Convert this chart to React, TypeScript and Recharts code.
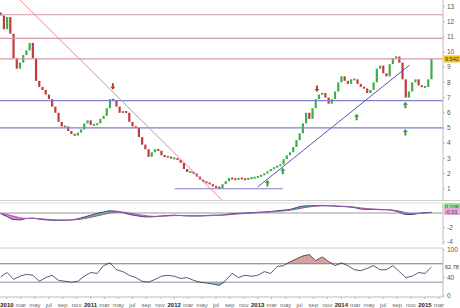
import { ComposedChart, Bar, Line, Area, Scatter, XAxis, YAxis, ReferenceLine } from 'recharts';

// biweekly closes, Jan 2010 -> Feb 2015
const closes = [
  12.4, 11.5, 12.3, 11.2, 9.6, 8.9, 9.3, 9.8, 10.1, 10.6, 9.6, 8.1, 7.7, 7.5, 7.2, 6.9, 6.4, 6.0, 5.4, 5.1,
  5.1, 4.8, 4.6, 4.5, 4.7, 4.9, 5.3, 5.5, 5.2, 5.2, 5.3, 5.6, 5.8, 6.3, 6.9, 6.8, 6.4, 6.0, 6.1, 6.0,
  5.4, 5.1, 5.0, 4.4, 3.9, 3.6, 3.1, 3.4, 3.6, 3.5, 3.2, 3.1, 3.1, 3.0, 3.0, 2.9, 2.7, 2.3, 2.1, 2.1,
  2.0, 1.8, 1.6, 1.45, 1.4, 1.3, 1.15, 1.1, 1.05, 1.3, 1.5, 1.7, 1.65, 1.6, 1.7, 1.65, 1.6, 1.7, 1.7, 1.75,
  1.8, 1.9, 2.0, 2.15, 2.3, 2.4, 2.5, 2.6, 2.95, 3.2, 3.4, 3.75, 4.2, 4.65, 5.3, 6.0, 5.6, 6.3, 6.9, 7.2,
  7.3, 7.0, 6.6, 6.9, 7.4, 8.0, 8.4, 8.1, 7.9, 8.2, 8.2, 7.9, 7.7, 7.6, 7.3, 7.5, 8.0, 8.9, 9.1, 8.6,
  8.4, 9.2, 9.6, 9.7, 9.3, 8.2, 7.0, 7.4, 8.0, 8.2, 7.8, 7.7, 7.7, 8.2, 9.542,
];
const firstOpen = 12.6;
const lastPrice = '9.542';

// monthly indicator values
const macdValues = [
  -0.1, -0.5, -0.9, -0.95, -0.75, -0.7, -0.85, -0.95, -1.0, -1.0, -1.0, -0.95, -0.8, -0.55, -0.3, -0.05, 0.15,
  0.3, 0.25, 0.05, -0.2, -0.35, -0.5, -0.55, -0.5, -0.4, -0.35, -0.3, -0.35, -0.4, -0.4, -0.4, -0.35, -0.3,
  -0.3, -0.2, -0.1, -0.05, 0.0, 0.05, 0.1, 0.15, 0.2, 0.3, 0.4, 0.5, 0.75, 0.95, 1.0, 1.0, 1.05, 1.0, 0.95,
  0.9, 0.85, 0.75, 0.55, 0.5, 0.5, 0.45, 0.45, 0.35, 0.1, -0.2, -0.2, -0.05, 0.05, 0.1,
];
const signalValues = [
  -0.05, -0.2, -0.45, -0.65, -0.75, -0.75, -0.78, -0.85, -0.92, -0.96, -0.98, -0.97, -0.9, -0.78, -0.6, -0.4,
  -0.2, 0.0, 0.12, 0.12, 0.0, -0.15, -0.3, -0.42, -0.47, -0.45, -0.4, -0.36, -0.35, -0.37, -0.39, -0.4, -0.38,
  -0.35, -0.32, -0.27, -0.2, -0.12, -0.06, -0.01, 0.04, 0.09, 0.14, 0.21, 0.29, 0.38, 0.52, 0.7, 0.84, 0.93,
  0.99, 1.0, 0.98, 0.94, 0.9, 0.82, 0.7, 0.6, 0.55, 0.5, 0.47, 0.41, 0.27, 0.05, -0.08, -0.07, -0.01, 0.05,
];
const rsiValues = [
  42, 51, 36, 43, 47, 45, 32, 40, 45, 34, 32, 30, 32, 43, 51, 49, 66, 72, 57, 53, 45, 40, 32, 30, 36, 43,
  45, 43, 38, 40, 34, 30, 28, 26, 23, 34, 49, 40, 45, 43, 45, 53, 49, 64, 66, 74, 81, 87, 90, 77, 85, 75,
  66, 72, 66, 57, 55, 60, 66, 57, 57, 66, 53, 40, 43, 51, 49, 62.78,
];

const resistance = [12.45, 10.9, 9.55];
const support = [6.8, 5.0];
const priceTicks = [1, 2, 3, 4, 5, 6, 7, 8, 9, 10, 11, 12, 13];
const monthTicks = [0, 2, 4, 6, 8, 10, 12, 14, 16, 18, 20, 22, 24, 26, 28, 30, 32, 34, 36, 38, 40, 42, 44, 46, 48, 50, 52, 54, 56, 58, 60, 62];
const tickLabels = [
  '2010', 'mar', 'may', 'jul', 'sep', 'nov', '2011', 'mar', 'may', 'jul', 'sep', 'nov',
  '2012', 'mar', 'may', 'jul', 'sep', 'nov', '2013', 'mar', 'may', 'jul', 'sep', 'nov',
  '2014', 'mar', 'may', 'jul', 'sep', 'nov', '2015', 'mar',
];
const upArrows = [
  { t: 37.4, v: 1.35 },
  { t: 39.6, v: 2.15 },
  { t: 50.2, v: 5.7 },
  { t: 57.2, v: 6.5 },
  { t: 57.2, v: 4.7 },
];
const downArrows = [
  { t: 15.2, v: 7.75 },
  { t: 44.5, v: 7.6 },
];

const candles = closes.map((c, i) => {
  const open = i === 0 ? firstOpen : closes[i - 1];
  return {
    t: -0.9 + (i * 12) / 26,
    open,
    close: c,
    body: [Math.min(open, c), Math.max(open, c)],
  };
});
const indicators = macdValues.map((m, k) => ({
  t: -0.9 + (k * 24) / 26,
  macd: m,
  signal: signalValues[k],
  rsi: rsiValues[k],
}));

const X_DOMAIN: [number, number] = [-1, 62.6];
const FONT = '"Liberation Sans", Arial, sans-serif';
const tickStyle = { fontSize: 6.5, fill: '#555', fontFamily: FONT };

const Candle = (props: any) => {
  const { x, y, width, height, payload } = props;
  const up = payload.close >= payload.open;
  const cx = x + width / 2;
  const h = Math.max(height, 2);
  return <rect x={cx - 1.1} y={y + height / 2 - h / 2} width={2.2} height={h} fill={up ? '#3fae49' : '#c43a3a'} />;
};

const UpArrow = (props: any) => {
  const { cx, cy } = props;
  return (
    <path
      d={`M${cx},${cy - 3.5} L${cx + 2.5},${cy - 0.5} L${cx + 1},${cy - 0.5} L${cx + 1},${cy + 3} L${cx - 1},${cy + 3} L${cx - 1},${cy - 0.5} L${cx - 2.5},${cy - 0.5} Z`}
      fill="#3d9b3d"
    />
  );
};

const DownArrow = (props: any) => {
  const { cx, cy } = props;
  return (
    <path
      d={`M${cx},${cy + 3.5} L${cx + 2.5},${cy + 0.5} L${cx + 1},${cy + 0.5} L${cx + 1},${cy - 3} L${cx - 1},${cy - 3} L${cx - 1},${cy + 0.5} L${cx - 2.5},${cy + 0.5} Z`}
      fill="#c0392b"
    />
  );
};

const makeTag = (text: string, fill: string, w: number) => (props: any) => {
  const { viewBox } = props;
  const x = viewBox.x + viewBox.width + 1;
  const y = viewBox.y;
  return (
    <g>
      <rect x={x} y={y - 3.5} width={w} height={7} fill={fill} />
      <text x={x + 1} y={y + 2.2} fontSize={5.5} fill="#333" fontFamily={FONT}>{text}</text>
    </g>
  );
};

const DateTick = (props: any) => {
  const { x, y, payload } = props;
  const label = tickLabels[monthTicks.indexOf(payload.value)];
  const isYear = /^\d+$/.test(label);
  return (
    <text x={x} y={y + 6} textAnchor="middle" fontSize={6} fontFamily={FONT} fontWeight={isYear ? 'bold' : 'normal'} fill={isYear ? '#222' : '#666'}>
      {label}
    </text>
  );
};

export default function App() {
  return (
    <div style={{ position: 'absolute', left: 0, top: 0, width: 460, height: 308, background: '#fff' }}>
      {/* price panel */}
      <div style={{ height: 200, borderBottom: '1px solid #ccc' }}>
        <ComposedChart width={460} height={200} data={candles} margin={{ top: 0, right: 0, bottom: 0, left: 0 }}>
          <XAxis dataKey="t" type="number" domain={X_DOMAIN} allowDataOverflow hide />
          <YAxis
            orientation="right"
            width={17}
            type="number"
            domain={[0.26, 13.42]}
            allowDataOverflow
            ticks={priceTicks}
            tick={tickStyle}
            tickSize={2}
            axisLine={{ stroke: '#bbb' }}
            tickLine={{ stroke: '#bbb' }}
          />
          {resistance.map((v) => (
            <ReferenceLine key={'r' + v} y={v} stroke="#d39aa9" strokeWidth={1.2} />
          ))}
          {support.map((v) => (
            <ReferenceLine key={'s' + v} y={v} stroke="#7f7fcf" strokeWidth={1.2} />
          ))}
          <ReferenceLine segment={[{ x: 24.1, y: 1.0 }, { x: 39.6, y: 1.0 }]} stroke="#7f7fcf" />
          <ReferenceLine segment={[{ x: 1.87, y: 13.42 }, { x: 30.85, y: 0.26 }]} stroke="#e08c8c" />
          <ReferenceLine segment={[{ x: 36.0, y: 1.12 }, { x: 57.8, y: 9.14 }]} stroke="#5656b0" />
          <ReferenceLine y={9.542} stroke="none" label={makeTag(lastPrice, '#f2c21b', 16)} />
          <Bar dataKey="body" barSize={2} shape={Candle} isAnimationActive={false} />
          <Scatter data={upArrows} dataKey="v" shape={UpArrow} isAnimationActive={false} />
          <Scatter data={downArrows} dataKey="v" shape={DownArrow} isAnimationActive={false} />
        </ComposedChart>
      </div>

      {/* MACD panel */}
      <div style={{ height: 45 }}>
        <ComposedChart width={460} height={45} data={indicators} margin={{ top: 2, right: 0, bottom: 1, left: 0 }}>
          <XAxis dataKey="t" type="number" domain={X_DOMAIN} allowDataOverflow hide />
          <YAxis
            orientation="right"
            width={17}
            type="number"
            domain={[-4.41, 1.38]}
            allowDataOverflow
            ticks={[-4, -2]}
            tick={tickStyle}
            tickSize={2}
            axisLine={{ stroke: '#bbb' }}
            tickLine={{ stroke: '#bbb' }}
          />
          <ReferenceLine y={1.38} stroke="#ddd" />
          <ReferenceLine y={0} stroke="#999" />
          <Area
            dataKey={(d: any) => (d.macd > d.signal ? [d.signal, d.macd] : [d.signal, d.signal])}
            stroke="none"
            fill="#4fbf4f"
            fillOpacity={0.9}
            type="monotone"
            isAnimationActive={false}
          />
          <Area
            dataKey={(d: any) => (d.macd < d.signal ? [d.macd, d.signal] : [d.signal, d.signal])}
            stroke="none"
            fill="#e070c8"
            fillOpacity={0.9}
            type="monotone"
            isAnimationActive={false}
          />
          <Line dataKey="macd" stroke="#3f3f8f" strokeWidth={1} dot={false} type="monotone" isAnimationActive={false} />
          <Line dataKey="signal" stroke="#a05aa8" strokeWidth={1} dot={false} type="monotone" isAnimationActive={false} />
          <ReferenceLine y={0.9} stroke="none" label={makeTag('0.106', '#9fe09f', 17)} />
          <ReferenceLine y={0.2} stroke="none" label={makeTag('-0.01', '#f0a8d8', 17)} />
        </ComposedChart>
      </div>

      {/* RSI panel */}
      <div style={{ height: 62 }}>
        <ComposedChart width={460} height={62} data={indicators} margin={{ top: 2, right: 0, bottom: 0, left: 0 }}>
          <XAxis
            dataKey="t"
            type="number"
            domain={X_DOMAIN}
            allowDataOverflow
            ticks={monthTicks}
            tick={DateTick}
            tickSize={2}
            height={11}
            interval={0}
            axisLine={{ stroke: '#bbb' }}
            tickLine={{ stroke: '#bbb' }}
          />
          <YAxis
            orientation="right"
            width={17}
            type="number"
            domain={[-2.2, 104.3]}
            allowDataOverflow
            ticks={[0, 20, 40, 80, 100]}
            tick={tickStyle}
            tickSize={2}
            axisLine={{ stroke: '#bbb' }}
            tickLine={{ stroke: '#bbb' }}
          />
          <ReferenceLine y={104.3} stroke="#ccc" />
          <ReferenceLine y={70} stroke="#777799" />
          <ReferenceLine y={30} stroke="#8a8ab0" />
          <Area
            dataKey={(d: any) => [70, Math.max(70, d.rsi)]}
            stroke="none"
            fill="#b5554f"
            fillOpacity={0.55}
            isAnimationActive={false}
          />
          <Area
            dataKey={(d: any) => [Math.min(30, d.rsi), 30]}
            stroke="none"
            fill="#3f8f8f"
            fillOpacity={0.55}
            isAnimationActive={false}
          />
          <Line dataKey="rsi" stroke="#333" strokeWidth={0.8} dot={false} isAnimationActive={false} />
          <ReferenceLine y={62.78} stroke="none" label={makeTag('62.78', '#ffffff', 17)} />
        </ComposedChart>
      </div>
    </div>
  );
}
